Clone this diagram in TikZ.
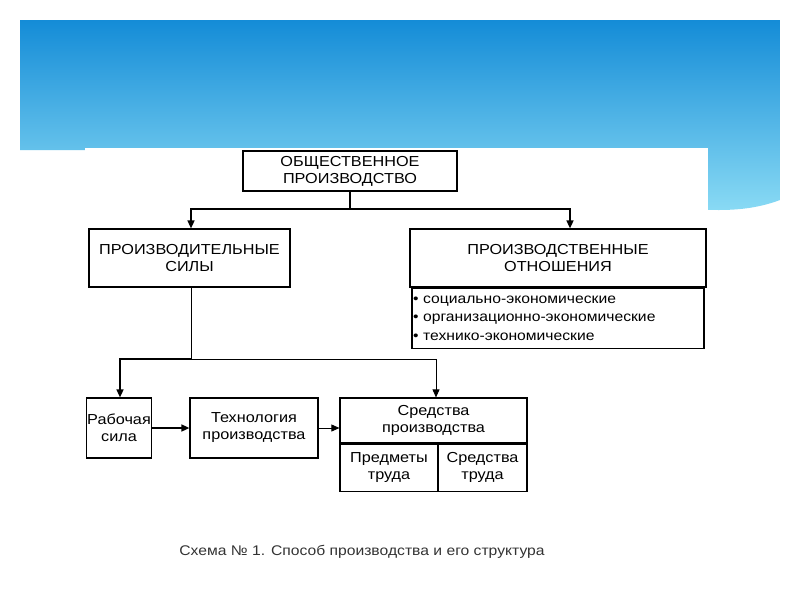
\documentclass[tikz,border=0pt]{standalone}
\usepackage{fontspec}
\setmainfont[FakeStretch=1.12]{Liberation Sans}
\usetikzlibrary{arrows.meta}
\begin{document}
\begin{tikzpicture}[x=1pt,y=-1pt,
  bx/.style={draw,line width=1.2pt,inner sep=1pt,align=center,font=\fontsize{14.5}{17}\selectfont},
  ar/.style={-{Triangle[length=8pt,width=7pt]},line width=1.5pt},
  thin ar/.style={-{Triangle[length=8pt,width=7pt]},line width=0.8pt}]
\useasboundingbox (0,0) rectangle (800,600);
\fill[white] (0,0) rectangle (800,600);
% blue header
\shade[top color={rgb,255:red,20;green,140;blue,215},bottom color={rgb,255:red,140;green,220;blue,245}]
  (20,20) -- (780,20) -- (780,200) .. controls (740,215) and (700,210) .. (650,205)
  -- (650,150) -- (20,150) -- cycle;
\fill[white] (85,148) rectangle (708,565);
% nodes
\node[bx,minimum width=214,minimum height=40] (top) at (350,171) {ОБЩЕСТВЕННОЕ\\ПРОИЗВОДСТВО};
\node[bx,minimum width=201,minimum height=58] (pf) at (189.5,258) {ПРОИЗВОДИТЕЛЬНЫЕ\\СИЛЫ};
\node[bx,minimum width=296,minimum height=58] (po) at (558,258) {ПРОИЗВОДСТВЕННЫЕ\\ОТНОШЕНИЯ};
\node[bx,text width=290,minimum height=60,anchor=north,align=left,font=\fontsize{14}{18.5}\selectfont] (list) at (po.south) {\textbullet\ социально-экономические\\\textbullet\ организационно-экономические\\\textbullet\ технико-экономические};
\node[bx,minimum width=62,minimum height=60] (rs) at (119,428) {Рабочая\\сила};
\node[bx,minimum width=128,minimum height=60] (tp) at (254,428) {Технология\\производства};
\node[bx,minimum width=187,minimum height=45] (sp) at (433.5,420.5) {Средства\\производства};
\node[bx,minimum width=98,minimum height=47,anchor=north west] (pt) at (sp.south west) {Предметы\\труда};
\node[bx,minimum width=89,minimum height=47,anchor=north east] (st) at (sp.south east) {Средства\\труда};
\node[font=\fontsize{14}{16}\selectfont,text=black!80] (cap) at (362,552) {Схема № 1. Способ производства и его структура};
% connectors
\coordinate (j1) at (350,209);
\draw[line width=1.5pt] (top.south) -- (j1);
\draw[ar] (j1) -| (pf.north -| 191,0);
\draw[ar] (j1) -| (po.north -| 570,0);
\coordinate (j2) at (191,359);
\draw[line width=0.8pt] (pf.south -| j2) -- (j2);
\draw[ar] (j2) -| (rs.north -| 120,0);
\draw[thin ar] (j2) -| (sp.north -| 436,0);
\draw[ar] (rs.east) -- (tp.west);
\draw[thin ar] (tp.east) -- (sp.west |- tp.east);
\end{tikzpicture}
\end{document}
